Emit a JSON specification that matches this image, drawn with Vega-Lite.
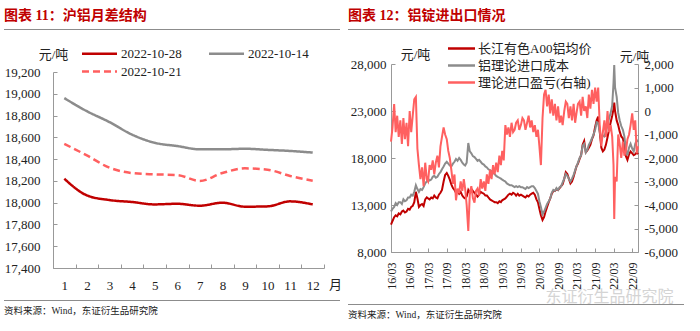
{
  "$schema": "https://vega.github.io/schema/vega-lite/v6.json",
  "background": "white",
  "padding": {"left": 4, "top": 9, "right": 0, "bottom": 0},
  "config": {
    "font": "Liberation Serif, Noto Sans CJK SC",
    "view": {"stroke": null},
    "locale": {"number": {"decimal": ".", "thousands": ",", "grouping": [3], "currency": ["", ""], "minus": "-"}},
    "axis": {"domainColor": "#999999", "tickColor": "#999999", "tickSize": -4, "labelFont": "Liberation Serif", "labelFontSize": 13, "labelColor": "#222222", "grid": false, "titleFont": "Liberation Serif, Noto Sans CJK SC", "titleFontSize": 13, "titleFontWeight": "normal", "titleColor": "#222222", "labelOverlap": false},
    "legend": {"labelFont": "Liberation Serif, Noto Sans CJK SC", "labelFontSize": 13, "labelColor": "#222222"},
    "title": {"color": "#C00000", "fontSize": 14, "fontWeight": "bold", "font": "Liberation Serif, Noto Sans CJK SC", "anchor": "start", "frame": "group"}
  },
  "resolve": {"scale": {"color": "independent", "strokeDash": "independent"}},
  "spacing": 6,
  "hconcat": [
    {
      "resolve": {"scale": {"color": "independent", "strokeDash": "independent"}},
      "spacing": 8,
      "vconcat": [
        {
          "resolve": {"scale": {"color": "independent", "strokeDash": "independent"}},
          "spacing": 17,
          "vconcat": [
            {
              "width": 336, "height": 1,
              "view": {"stroke": null, "fill": "#8c8c8c"},
              "title": {"text": "图表 11：沪铝月差结构", "offset": 6},
              "data": {"values": []},
              "mark": {"type": "text", "text": ""},
              "encoding": {}
            },
            {
              "resolve": {"scale": {"color": "independent", "strokeDash": "independent"}},
              "spacing": -1,
              "hconcat": [
                {
                  "width": 1, "height": 1,
                  "data": {"values": []},
                  "mark": {"type": "text", "text": ""},
                  "encoding": {}
                },
                {
                  "width": 271, "height": 196,
                  "data": {"values": [
                    {"m": 1, "d": "2022-10-28", "v": 18220}, {"m": 2, "d": "2022-10-28", "v": 18067}, {"m": 3, "d": "2022-10-28", "v": 18024}, {"m": 4, "d": "2022-10-28", "v": 18006}, {"m": 5, "d": "2022-10-28", "v": 17984}, {"m": 6, "d": "2022-10-28", "v": 17990}, {"m": 7, "d": "2022-10-28", "v": 17972}, {"m": 8, "d": "2022-10-28", "v": 18000}, {"m": 9, "d": "2022-10-28", "v": 17963}, {"m": 10, "d": "2022-10-28", "v": 17966}, {"m": 11, "d": "2022-10-28", "v": 18012}, {"m": 12, "d": "2022-10-28", "v": 17984},
                    {"m": 1, "d": "2022-10-14", "v": 18960}, {"m": 2, "d": "2022-10-14", "v": 18840}, {"m": 3, "d": "2022-10-14", "v": 18740}, {"m": 4, "d": "2022-10-14", "v": 18625}, {"m": 5, "d": "2022-10-14", "v": 18550}, {"m": 6, "d": "2022-10-14", "v": 18520}, {"m": 7, "d": "2022-10-14", "v": 18490}, {"m": 8, "d": "2022-10-14", "v": 18490}, {"m": 9, "d": "2022-10-14", "v": 18495}, {"m": 10, "d": "2022-10-14", "v": 18485}, {"m": 11, "d": "2022-10-14", "v": 18475}, {"m": 12, "d": "2022-10-14", "v": 18460},
                    {"m": 1, "d": "2022-10-21", "v": 18540}, {"m": 2, "d": "2022-10-21", "v": 18434}, {"m": 3, "d": "2022-10-21", "v": 18321}, {"m": 4, "d": "2022-10-21", "v": 18272}, {"m": 5, "d": "2022-10-21", "v": 18260}, {"m": 6, "d": "2022-10-21", "v": 18254}, {"m": 7, "d": "2022-10-21", "v": 18199}, {"m": 8, "d": "2022-10-21", "v": 18272}, {"m": 9, "d": "2022-10-21", "v": 18315}, {"m": 10, "d": "2022-10-21", "v": 18303}, {"m": 11, "d": "2022-10-21", "v": 18245}, {"m": 12, "d": "2022-10-21", "v": 18202}
                  ]},
                  "mark": {"type": "line", "interpolate": "monotone", "strokeWidth": 2.5},
                  "encoding": {
                    "x": {"field": "m", "type": "ordinal", "scale": {"type": "band", "paddingInner": 0, "paddingOuter": 0},
                          "axis": {"title": "月", "titleX": 282, "titleY": 16, "titleAngle": 0, "titleAlign": "center", "titleBaseline": "middle", "labelAngle": 0, "tickBand": "extent", "labelPadding": 15}},
                    "y": {"field": "v", "type": "quantitative", "scale": {"domain": [17400, 19200], "zero": false, "nice": false},
                          "axis": {"values": [17400, 17600, 17800, 18000, 18200, 18400, 18600, 18800, 19000, 19200], "format": ",.0f", "title": "元/吨", "titleAngle": 0, "titleX": 0, "titleY": -18, "titleAlign": "center", "titleBaseline": "middle", "labelPadding": 17}},
                    "color": {"field": "d", "type": "nominal", "scale": {"domain": ["2022-10-28", "2022-10-14", "2022-10-21"], "range": ["#C00000", "#8C8C8C", "#FF5F5F"]},
                              "legend": {"title": null, "orient": "none", "legendX": 40, "legendY": -25, "columns": 2, "direction": "horizontal", "symbolType": "M-3.5,0H3.5", "symbolSize": 100, "symbolStrokeWidth": 2.5, "labelOffset": 15, "columnPadding": 22, "rowPadding": 4, "labelFont": "Liberation Serif"}},
                    "strokeDash": {"field": "d", "type": "nominal", "scale": {"domain": ["2022-10-28", "2022-10-14", "2022-10-21"], "range": [[1, 0], [1, 0], [7, 4]]},
                              "legend": {"title": null, "orient": "none", "legendX": 40, "legendY": -25, "columns": 2, "direction": "horizontal", "symbolType": "M-3.5,0H3.5", "symbolSize": 100, "symbolStrokeWidth": 2.5, "labelOffset": 15, "columnPadding": 22, "rowPadding": 4, "labelFont": "Liberation Serif"}}
                  }
                }
              ]
            }
          ]
        },
        {
          "width": 336, "height": 1,
          "view": {"stroke": null, "fill": "#8c8c8c"},
          "title": {"text": "资料来源：Wind，东证衍生品研究院", "orient": "bottom", "fontSize": 9.5, "fontWeight": "normal", "color": "#222222", "offset": 5},
          "data": {"values": []},
          "mark": {"type": "text", "text": ""},
          "encoding": {}
        }
      ]
    },
    {
      "resolve": {"scale": {"color": "independent", "strokeDash": "independent"}},
      "spacing": -3,
      "vconcat": [
        {
          "resolve": {"scale": {"color": "independent", "strokeDash": "independent"}},
          "spacing": 12,
          "vconcat": [
            {
              "width": 336, "height": 1,
              "view": {"stroke": null, "fill": "#8c8c8c"},
              "title": {"text": "图表 12：铝锭进出口情况", "offset": 6},
              "data": {"values": []},
              "mark": {"type": "text", "text": ""},
              "encoding": {}
            },
            {
              "resolve": {"scale": {"color": "independent", "strokeDash": "independent"}},
              "spacing": 1,
              "hconcat": [
                {
                  "width": 1, "height": 1,
                  "data": {"values": []},
                  "mark": {"type": "text", "text": ""},
                  "encoding": {}
                },
                {
                  "width": 247, "height": 188,
                  "data": {"values": [
                    {"t": "2016/03/01", "a": 10900, "c": 12300, "p": -1300}, {"t": "2016/03/16", "a": 11300, "c": 12600, "p": -700},
                    {"t": "2016/04/01", "a": 11700, "c": 12800, "p": 300}, {"t": "2016/04/16", "a": 11900, "c": 13200, "p": -900},
                    {"t": "2016/05/01", "a": 11800, "c": 13000, "p": -200}, {"t": "2016/05/16", "a": 12100, "c": 13300, "p": -1100},
                    {"t": "2016/06/01", "a": 12000, "c": 13300, "p": -400}, {"t": "2016/06/16", "a": 12300, "c": 13100, "p": -1400},
                    {"t": "2016/07/01", "a": 12400, "c": 13600, "p": -300}, {"t": "2016/07/16", "a": 12200, "c": 13400, "p": -1200},
                    {"t": "2016/08/01", "a": 12300, "c": 13500, "p": -500}, {"t": "2016/08/16", "a": 12600, "c": 13800, "p": -1500},
                    {"t": "2016/09/01", "a": 12500, "c": 13800, "p": 0}, {"t": "2016/09/16", "a": 12800, "c": 14100, "p": -900},
                    {"t": "2016/10/01", "a": 12900, "c": 14000, "p": -200}, {"t": "2016/10/16", "a": 13300, "c": 14400, "p": 500},
                    {"t": "2016/11/01", "a": 14400, "c": 15100, "p": 600}, {"t": "2016/11/16", "a": 13700, "c": 14700, "p": -1600},
                    {"t": "2016/12/01", "a": 12800, "c": 14400, "p": -2300}, {"t": "2016/12/16", "a": 13000, "c": 14700, "p": -2900},
                    {"t": "2017/01/01", "a": 13100, "c": 14600, "p": -2400}, {"t": "2017/01/16", "a": 12900, "c": 14900, "p": -3200},
                    {"t": "2017/02/01", "a": 13600, "c": 15300, "p": -2200}, {"t": "2017/02/16", "a": 13800, "c": 15500, "p": -2900},
                    {"t": "2017/03/01", "a": 13700, "c": 15800, "p": -3000}, {"t": "2017/03/16", "a": 13600, "c": 15600, "p": -2300},
                    {"t": "2017/04/01", "a": 13800, "c": 15700, "p": -2500}, {"t": "2017/04/16", "a": 13700, "c": 16000, "p": -2100},
                    {"t": "2017/05/01", "a": 14000, "c": 16100, "p": -2700}, {"t": "2017/05/16", "a": 13800, "c": 15900, "p": -2200},
                    {"t": "2017/06/01", "a": 13700, "c": 16000, "p": -1900}, {"t": "2017/06/16", "a": 14100, "c": 16300, "p": -2400},
                    {"t": "2017/07/01", "a": 14300, "c": 16500, "p": -1500}, {"t": "2017/07/16", "a": 14600, "c": 16800, "p": -1100},
                    {"t": "2017/08/01", "a": 15500, "c": 17100, "p": -700}, {"t": "2017/08/16", "a": 16200, "c": 17400, "p": -1000},
                    {"t": "2017/09/01", "a": 16400, "c": 17600, "p": -1200}, {"t": "2017/09/16", "a": 16100, "c": 17400, "p": -1700},
                    {"t": "2017/10/01", "a": 15700, "c": 17200, "p": -2000}, {"t": "2017/10/16", "a": 15200, "c": 17100, "p": -2500},
                    {"t": "2017/11/01", "a": 14800, "c": 17400, "p": -3100}, {"t": "2017/11/16", "a": 14600, "c": 17600, "p": -2700},
                    {"t": "2017/12/01", "a": 14300, "c": 17900, "p": -3800}, {"t": "2017/12/16", "a": 14500, "c": 17700, "p": -3300},
                    {"t": "2018/01/01", "a": 14200, "c": 18000, "p": -3500}, {"t": "2018/01/16", "a": 14400, "c": 17800, "p": -3000},
                    {"t": "2018/02/01", "a": 14000, "c": 17500, "p": -3400}, {"t": "2018/02/16", "a": 13800, "c": 17300, "p": -2900},
                    {"t": "2018/03/01", "a": 13700, "c": 17200, "p": -3300}, {"t": "2018/03/16", "a": 13900, "c": 17500, "p": -4000},
                    {"t": "2018/04/01", "a": 14600, "c": 19600, "p": -5100}, {"t": "2018/04/16", "a": 14300, "c": 18700, "p": -3500},
                    {"t": "2018/05/01", "a": 14700, "c": 18500, "p": -3200}, {"t": "2018/05/16", "a": 14500, "c": 18200, "p": -3700},
                    {"t": "2018/06/01", "a": 14300, "c": 18100, "p": -3900}, {"t": "2018/06/16", "a": 14100, "c": 17900, "p": -3400},
                    {"t": "2018/07/01", "a": 13900, "c": 17700, "p": -3300}, {"t": "2018/07/16", "a": 14100, "c": 17800, "p": -3600},
                    {"t": "2018/08/01", "a": 14400, "c": 17600, "p": -2900}, {"t": "2018/08/16", "a": 14300, "c": 17400, "p": -3300},
                    {"t": "2018/09/01", "a": 14200, "c": 17300, "p": -3000}, {"t": "2018/09/16", "a": 14000, "c": 17100, "p": -3400},
                    {"t": "2018/10/01", "a": 14000, "c": 17000, "p": -2700}, {"t": "2018/10/16", "a": 13800, "c": 16800, "p": -3100},
                    {"t": "2018/11/01", "a": 13600, "c": 16700, "p": -2500}, {"t": "2018/11/16", "a": 13500, "c": 16600, "p": -2900},
                    {"t": "2018/12/01", "a": 13400, "c": 16400, "p": -2300}, {"t": "2018/12/16", "a": 13300, "c": 16300, "p": -2700},
                    {"t": "2019/01/01", "a": 13300, "c": 16100, "p": -2200}, {"t": "2019/01/16", "a": 13200, "c": 16000, "p": -2600},
                    {"t": "2019/02/01", "a": 13400, "c": 15900, "p": -1900}, {"t": "2019/02/16", "a": 13300, "c": 15800, "p": -2300},
                    {"t": "2019/03/01", "a": 13500, "c": 15700, "p": -1700}, {"t": "2019/03/16", "a": 13600, "c": 15600, "p": -2100},
                    {"t": "2019/04/01", "a": 13700, "c": 15500, "p": -600}, {"t": "2019/04/16", "a": 13900, "c": 15300, "p": -1000},
                    {"t": "2019/05/01", "a": 14100, "c": 15200, "p": -700}, {"t": "2019/05/16", "a": 14200, "c": 15100, "p": -1100},
                    {"t": "2019/06/01", "a": 14100, "c": 15100, "p": -500}, {"t": "2019/06/16", "a": 14300, "c": 15000, "p": -900},
                    {"t": "2019/07/01", "a": 14200, "c": 14900, "p": -800}, {"t": "2019/07/16", "a": 14000, "c": 15000, "p": -500},
                    {"t": "2019/08/01", "a": 14200, "c": 14900, "p": -400}, {"t": "2019/08/16", "a": 14000, "c": 15000, "p": -800},
                    {"t": "2019/09/01", "a": 14100, "c": 14900, "p": -600}, {"t": "2019/09/16", "a": 14000, "c": 14900, "p": -300},
                    {"t": "2019/10/01", "a": 13900, "c": 14800, "p": -400}, {"t": "2019/10/16", "a": 13800, "c": 14700, "p": -800},
                    {"t": "2019/11/01", "a": 14000, "c": 14900, "p": -500}, {"t": "2019/11/16", "a": 13900, "c": 14800, "p": -200},
                    {"t": "2019/12/01", "a": 14100, "c": 14900, "p": -700}, {"t": "2019/12/16", "a": 14200, "c": 15000, "p": -400},
                    {"t": "2020/01/01", "a": 14300, "c": 15000, "p": -900}, {"t": "2020/01/16", "a": 14100, "c": 14800, "p": -600},
                    {"t": "2020/02/01", "a": 13600, "c": 14500, "p": -1100}, {"t": "2020/02/16", "a": 13300, "c": 14200, "p": -800},
                    {"t": "2020/03/01", "a": 12600, "c": 13400, "p": -1500}, {"t": "2020/03/16", "a": 11900, "c": 12800, "p": -2300},
                    {"t": "2020/04/01", "a": 11400, "c": 12000, "p": -300}, {"t": "2020/04/16", "a": 11700, "c": 12300, "p": 700},
                    {"t": "2020/05/01", "a": 12300, "c": 12700, "p": 900}, {"t": "2020/05/16", "a": 12800, "c": 13100, "p": 200},
                    {"t": "2020/06/01", "a": 13300, "c": 13400, "p": 700}, {"t": "2020/06/16", "a": 13700, "c": 13700, "p": -100},
                    {"t": "2020/07/01", "a": 14200, "c": 14300, "p": 500}, {"t": "2020/07/16", "a": 14500, "c": 14600, "p": -200},
                    {"t": "2020/08/01", "a": 14500, "c": 14500, "p": 300}, {"t": "2020/08/16", "a": 14700, "c": 14800, "p": -400},
                    {"t": "2020/09/01", "a": 14600, "c": 14600, "p": 200}, {"t": "2020/09/16", "a": 14800, "c": 14900, "p": -500},
                    {"t": "2020/10/01", "a": 15000, "c": 15000, "p": -200}, {"t": "2020/10/16", "a": 15200, "c": 15400, "p": -600},
                    {"t": "2020/11/01", "a": 15800, "c": 15800, "p": 0}, {"t": "2020/11/16", "a": 16500, "c": 16300, "p": 400},
                    {"t": "2020/12/01", "a": 16300, "c": 16100, "p": 300}, {"t": "2020/12/16", "a": 15800, "c": 15800, "p": -300},
                    {"t": "2021/01/01", "a": 15300, "c": 15500, "p": 200}, {"t": "2021/01/16", "a": 15500, "c": 15800, "p": -400},
                    {"t": "2021/02/01", "a": 16000, "c": 16200, "p": 300}, {"t": "2021/02/16", "a": 16600, "c": 16700, "p": -500},
                    {"t": "2021/03/01", "a": 17100, "c": 17100, "p": -100}, {"t": "2021/03/16", "a": 17400, "c": 17500, "p": 300},
                    {"t": "2021/04/01", "a": 17900, "c": 18000, "p": 400}, {"t": "2021/04/16", "a": 18300, "c": 18300, "p": -200},
                    {"t": "2021/05/01", "a": 19400, "c": 19300, "p": 600}, {"t": "2021/05/16", "a": 19800, "c": 19500, "p": 0},
                    {"t": "2021/06/01", "a": 18600, "c": 18600, "p": 200}, {"t": "2021/06/16", "a": 18800, "c": 18900, "p": -300},
                    {"t": "2021/07/01", "a": 19100, "c": 19400, "p": 700}, {"t": "2021/07/16", "a": 19400, "c": 19700, "p": 100},
                    {"t": "2021/08/01", "a": 20000, "c": 20100, "p": 900}, {"t": "2021/08/16", "a": 20400, "c": 20500, "p": 300},
                    {"t": "2021/09/01", "a": 21300, "c": 21000, "p": 1000}, {"t": "2021/09/16", "a": 22000, "c": 21800, "p": 400},
                    {"t": "2021/10/01", "a": 22400, "c": 21700, "p": 1000}, {"t": "2021/10/16", "a": 20800, "c": 20800, "p": -600},
                    {"t": "2021/11/01", "a": 19100, "c": 20000, "p": -1500}, {"t": "2021/11/16", "a": 18700, "c": 20400, "p": -900},
                    {"t": "2021/12/01", "a": 18900, "c": 20300, "p": -400}, {"t": "2021/12/16", "a": 19400, "c": 20800, "p": -1100},
                    {"t": "2022/01/01", "a": 20200, "c": 21500, "p": 0}, {"t": "2022/01/16", "a": 21000, "c": 22200, "p": -900},
                    {"t": "2022/02/01", "a": 21800, "c": 22800, "p": -600}, {"t": "2022/02/16", "a": 22500, "c": 23600, "p": -1100},
                    {"t": "2022/03/01", "a": 23200, "c": 26000, "p": -2300}, {"t": "2022/03/08", "a": 23900, "c": 27900, "p": -4600},
                    {"t": "2022/03/16", "a": 23000, "c": 25500, "p": -2800}, {"t": "2022/04/01", "a": 22000, "c": 24500, "p": -3000},
                    {"t": "2022/04/16", "a": 21500, "c": 22800, "p": -1000}, {"t": "2022/05/01", "a": 20800, "c": 22000, "p": -1400},
                    {"t": "2022/05/16", "a": 20300, "c": 21400, "p": -2000}, {"t": "2022/06/01", "a": 20100, "c": 21000, "p": -1300},
                    {"t": "2022/06/16", "a": 19300, "c": 20300, "p": -1900}, {"t": "2022/07/01", "a": 18200, "c": 18900, "p": -1700},
                    {"t": "2022/07/16", "a": 17800, "c": 18300, "p": -1200}, {"t": "2022/08/01", "a": 18400, "c": 19100, "p": -1000},
                    {"t": "2022/08/16", "a": 18700, "c": 19500, "p": -600}, {"t": "2022/09/01", "a": 18500, "c": 19000, "p": -100},
                    {"t": "2022/09/16", "a": 18300, "c": 18700, "p": -800}, {"t": "2022/10/01", "a": 18400, "c": 19500, "p": -400},
                    {"t": "2022/10/16", "a": 18600, "c": 19900, "p": -1800}, {"t": "2022/10/28", "a": 18400, "c": 19700, "p": -1500}
                  ]},
                  "encoding": {
                    "x": {"field": "t", "type": "temporal",
                          "scale": {"domain": [{"year": 2016, "month": 3, "date": 1}, {"year": 2022, "month": 10, "date": 28}]},
                          "axis": {"values": [{"year": 2016, "month": 3, "date": 1}, {"year": 2016, "month": 9, "date": 1}, {"year": 2017, "month": 3, "date": 1}, {"year": 2017, "month": 9, "date": 1}, {"year": 2018, "month": 3, "date": 1}, {"year": 2018, "month": 9, "date": 1}, {"year": 2019, "month": 3, "date": 1}, {"year": 2019, "month": 9, "date": 1}, {"year": 2020, "month": 3, "date": 1}, {"year": 2020, "month": 9, "date": 1}, {"year": 2021, "month": 3, "date": 1}, {"year": 2021, "month": 9, "date": 1}, {"year": 2022, "month": 3, "date": 1}, {"year": 2022, "month": 9, "date": 1}],
                                   "format": "%y/%m", "labelAngle": 270, "labelPadding": 14, "labelFontSize": 12,
                                   "title": "东证衍生品研究院", "titleX": 218, "titleY": 44, "titleAngle": 0, "titleAlign": "center", "titleBaseline": "middle", "titleFontSize": 16, "titleColor": "#d4d4d4", "titleFont": "Noto Sans CJK SC"}}
                  },
                  "layer": [
                    {
                      "layer": [
                        {
                          "mark": {"type": "line", "strokeWidth": 2},
                          "encoding": {
                            "y": {"field": "a", "type": "quantitative", "scale": {"domain": [8000, 28000], "zero": false, "nice": false},
                                  "axis": {"values": [8000, 13000, 18000, 23000, 28000], "format": ",.0f", "title": "元/吨", "titleAngle": 0, "titleX": 24, "titleY": -10, "titleAlign": "center", "titleBaseline": "middle", "labelPadding": 9}},
                            "color": {"datum": "长江有色A00铝均价", "type": "nominal",
                                      "scale": {"domain": ["长江有色A00铝均价", "铝理论进口成本", "理论进口盈亏(右轴)"], "range": ["#C00000", "#8C8C8C", "#FF6060"]},
                                      "legend": {"title": null, "orient": "none", "legendX": 64, "legendY": -22, "symbolType": "M-2.7,0H2.7", "symbolSize": 100, "symbolStrokeWidth": 2.5, "labelOffset": 10, "rowPadding": 3}}
                          }
                        },
                        {
                          "mark": {"type": "line", "strokeWidth": 2},
                          "encoding": {
                            "y": {"field": "c", "type": "quantitative"},
                            "color": {"datum": "铝理论进口成本", "type": "nominal"}
                          }
                        }
                      ]
                    },
                    {
                      "mark": {"type": "line", "strokeWidth": 2},
                      "encoding": {
                        "y": {"field": "p", "type": "quantitative", "scale": {"domain": [-6000, 2000], "zero": false, "nice": false},
                              "axis": {"orient": "right", "values": [-6000, -5000, -4000, -3000, -2000, -1000, 0, 1000, 2000], "format": ",.0f", "title": "元/吨", "titleAngle": 0, "titleX": -4, "titleY": -8, "titleAlign": "center", "titleBaseline": "middle", "labelPadding": 10}},
                        "color": {"datum": "理论进口盈亏(右轴)", "type": "nominal"}
                      }
                    }
                  ],
                  "resolve": {"scale": {"y": "independent"}}
                }
              ]
            }
          ]
        },
        {
          "width": 336, "height": 1,
          "view": {"stroke": null, "fill": "#8c8c8c"},
          "title": {"text": "资料来源：Wind，东证衍生品研究院", "orient": "bottom", "fontSize": 9.5, "fontWeight": "normal", "color": "#222222", "offset": 5},
          "data": {"values": []},
          "mark": {"type": "text", "text": ""},
          "encoding": {}
        }
      ]
    }
  ]
}
